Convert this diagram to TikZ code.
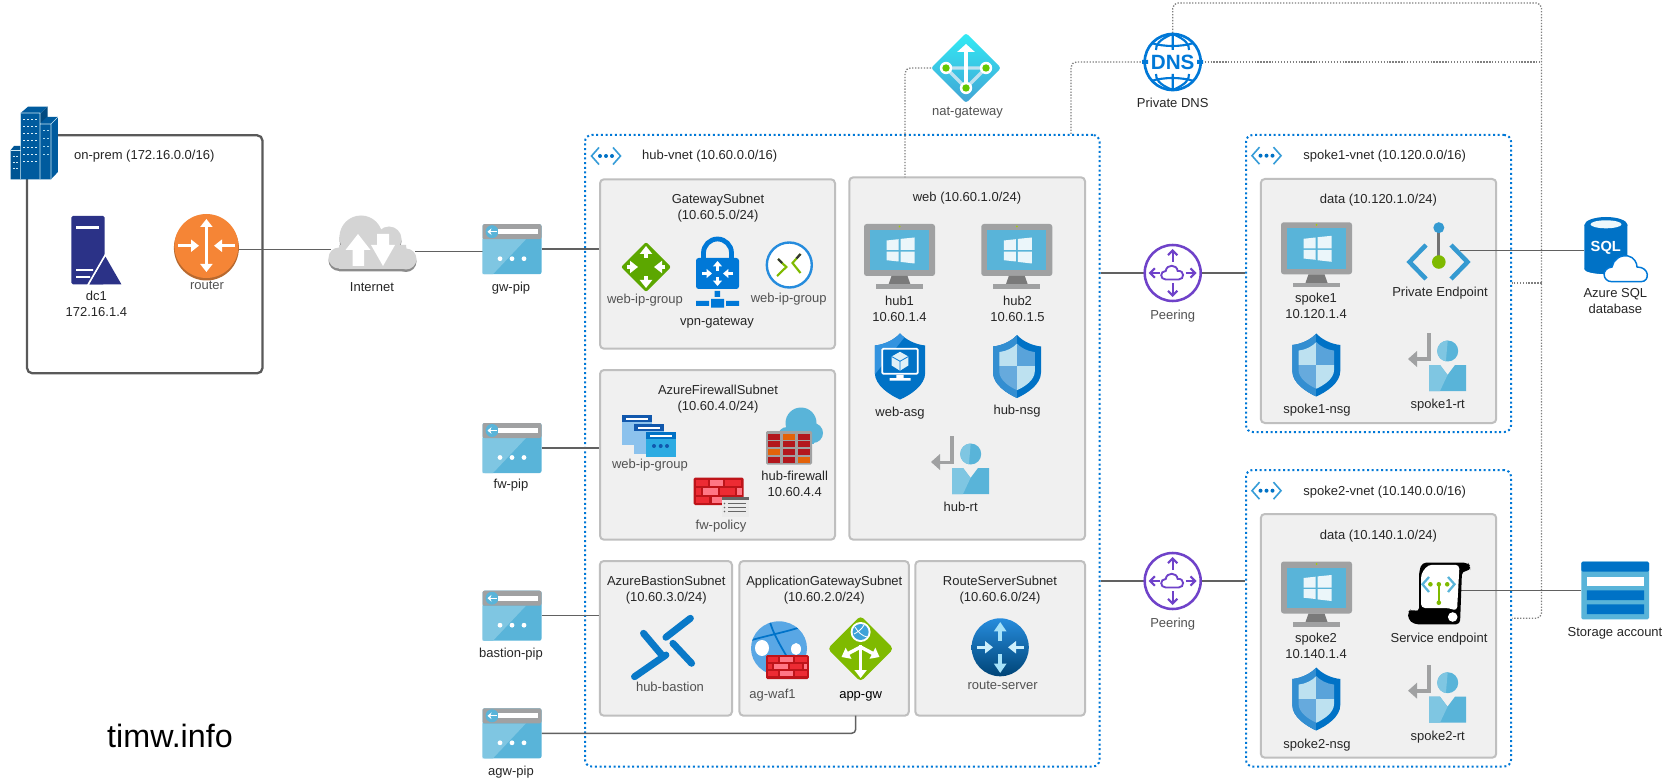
\documentclass[tikz,border=0pt]{standalone}
\usepackage{fontspec}
\setmainfont{Liberation Sans}
\usetikzlibrary{arrows.meta,shapes.geometric}
\definecolor{azblue}{HTML}{0078D7}
\definecolor{azdark}{HTML}{0072C6}
\definecolor{azsky}{HTML}{59B4D9}
\definecolor{azlight}{HTML}{7FC6E2}
\definecolor{azgrey}{HTML}{A0A1A2}
\definecolor{purp}{HTML}{6F42C9}
\definecolor{leaf}{HTML}{7FBA00}
\definecolor{navy}{HTML}{2B3287}
\definecolor{bricka}{HTML}{B3171D}
\definecolor{brickb}{HTML}{E36209}
\definecolor{brickc}{HTML}{ED2B33}
\definecolor{brickd}{HTML}{FF7785}
\definecolor{routerorange}{HTML}{F58536}
\definecolor{routerrim}{HTML}{B8692F}
\newcommand\lblfont{\fontsize{9.75}{12}\selectfont}
\newcommand\shieldpath{(0,-31.5) .. controls (-5,-26) and (-14,-21) .. (-24,-20) -- (-24,6) .. controls (-24,18) and (-10,27) .. (0,31.5) .. controls (10,27) and (24,18) .. (24,6) -- (24,-20) .. controls (14,-21) and (5,-26) .. (0,-31.5) -- cycle}
\newcommand\boxnode[6]{\node[#1,minimum width={(#5-#3)*0.75pt},minimum height={(#6-#4)*0.75pt}] (#2) at ({(#3+#5)/2},{(#4+#6)/2}) {};}
\newcommand\iconnode[5]{\node[anchornode,minimum width={#4*0.75pt},minimum height={#5*0.75pt}] (#1) at (#2,#3) {};}
\tikzset{
  x=0.75pt,y=-0.75pt,
  lbl/.style={font=\lblfont,text=black!85,align=center,inner sep=0pt,yshift=-0.6pt,execute at begin node=\strut,execute at end node=\strut},
  lblg/.style={lbl,text=black!68},
  subnet/.style={draw=black!25,line width=1.5pt,fill=black!6,rounded corners=3pt,inner sep=0pt},
  vnetbox/.style={draw=azblue,line width=1.5pt,dash pattern=on 1.5pt off 2pt,rounded corners=5pt,inner sep=0pt},
  prembox/.style={draw=black!65,line width=1.7pt,rounded corners=4pt,inner sep=0pt},
  anchornode/.style={inner sep=0pt,outer sep=0pt},
  conn/.style={draw=black!62,line width=1.1pt},
  dotline/.style={draw=black!50,line width=1pt,dash pattern=on 1pt off 1.2pt,rounded corners=4pt},
  wa/.style={draw=white,line width=2.6pt,-{Triangle[length=6pt,width=9pt]}},
  wd/.style={draw=white,line width=2.6pt,{Triangle[length=6pt,width=9pt]}-{Triangle[length=6pt,width=9pt]}},
  pics/pipicon/.style={code={
    \fill[azsky,rounded corners=1.5pt] (-29.5,-25) rectangle (29.5,25);
    \fill[azlight] (-29.5,-10) -- (14,-10) -- (-19,25) -- (-29.5,25) -- cycle;
    \fill[azgrey,rounded corners=1.5pt] (-29.5,-25) rectangle (29.5,-10);
    \fill[azsky] (-20,-17.5) circle (6.5);
    \draw[white,line width=1pt,-{Stealth[length=3pt,width=5pt]}] (-15,-17.5) -- (-24.5,-17.5);
    \fill[white] (-14,-20) rectangle (26,-15);
    \foreach \q in {-12,0,12} \fill[white] (\q,9.5) circle (2.4);
  }},
  pics/vmicon/.style={code={
    \fill[azgrey,rounded corners=2pt] (-35.5,-32.5) rectangle (35.5,19.5);
    \fill[azsky] (-30,-26.5) rectangle (29.5,14);
    \fill[black!52] (-8,19.5) -- (8,19.5) -- (11,28) -- (-11,28) -- cycle;
    \fill[azgrey] (-23.5,28) rectangle (23.5,32.5);
    \fill[leaf!70!yellow] (0,-30) circle (1);
    \fill[white!88!azsky] (-13,-16) -- (-1,-17.3) -- (-1,-6.5) -- (-13,-6.5) -- cycle;
    \fill[white!88!azsky] (1,-17.6) -- (15,-19) -- (15,-6.5) -- (1,-6.5) -- cycle;
    \fill[white!88!azsky] (-13,-4.8) -- (-1,-4.8) -- (-1,5) -- (-13,3.7) -- cycle;
    \fill[white!88!azsky] (1,-4.8) -- (15,-4.8) -- (15,7) -- (1,5.4) -- cycle;
  }},
  pics/nsgicon/.style={code={
    \fill[azdark] \shieldpath;
    \begin{scope}
      \clip \shieldpath;
      \fill[azdark!80!white] (-30,-35) rectangle (0,35);
    \end{scope}
    \begin{scope}[scale=.74,yshift=-0.4pt]
      \clip \shieldpath;
      \fill[azsky!40!white] (-30,-35) rectangle (0,-1);
      \fill[azdark!65!white] (0,-35) rectangle (30,-1);
      \fill[azdark!60!white] (-30,-1) rectangle (0,35);
      \fill[azsky!40!white] (0,-1) rectangle (30,35);
    \end{scope}
  }},
  pics/rticon/.style={code={
    \fill[azgrey] (-10,-29) rectangle (-6,-1);
    \fill[azgrey] (-24,-4.5) rectangle (-6,-1);
    \fill[azgrey] (-29,-3) -- (-20,-11) -- (-20,5) -- cycle;
    \fill[azsky] (10.7,-11) circle (10.5);
    \fill[azlight] (10.7,-21.5) arc (-90:-260:10.5) -- cycle;
    \fill[azsky] (-8,3) -- (3,3) -- (10.5,13) -- (18,3) -- (29,3) -- (29,29) -- (-8,29) -- cycle;
    \fill[azlight] (-8,3) -- (3,3) -- (10.5,13) -- (3,29) -- (-8,29) -- cycle;
  }},
  pics/vneticon/.style={code={
    \draw[azsky!60!azblue,line width=1.2pt] (-7,-8.5) -- (-14.5,0) -- (-7,8.5);
    \draw[azsky!60!azblue,line width=1.2pt] (7,-8.5) -- (14.5,0) -- (7,8.5);
    \foreach \q in {-6,0,6} \fill[azdark] (\q,0) circle (2);
  }},
  pics/peericon/.style={code={
    \draw[purp,line width=1.9pt] (0,0) circle (28);
    \draw[purp,line width=1.6pt,-{Straight Barb[length=3.5pt,width=7pt]}] (0,-11) -- (0,-24);
    \draw[purp,line width=1.6pt,-{Straight Barb[length=3.5pt,width=7pt]}] (0,10) -- (0,24);
    \draw[purp,line width=1.6pt,-{Straight Barb[length=3.5pt,width=7pt]}] (-13,0) -- (-24,0);
    \draw[purp,line width=1.6pt,-{Straight Barb[length=3.5pt,width=7pt]}] (13,0) -- (24,0);
    \draw[purp,line width=1.4pt] (-7,6.5) .. controls (-13,6.5) and (-13,-2) .. (-7,-2) .. controls (-6,-9) and (4,-9) .. (5,-2) .. controls (12,-3) and (12,6.5) .. (6,6.5) -- cycle;
  }},
}
\begin{document}
\begin{tikzpicture}
\useasboundingbox (0,0) rectangle (1673,780);
\fill[white] (0,0) rectangle (1673,780);
% containers
\boxnode{prembox}{onprem}{27}{135.3}{262.5}{373.3}
\boxnode{vnetbox}{hubvnet}{585}{135}{1099.5}{766.5}
\boxnode{vnetbox}{spokeonevnet}{1246}{135}{1511}{432}
\boxnode{vnetbox}{spoketwovnet}{1246}{470}{1511}{766.5}
\boxnode{subnet}{gwsubnet}{600}{179.3}{835}{348.7}
\boxnode{subnet}{fwsubnet}{600}{370}{835}{539.7}
\boxnode{subnet}{websubnet}{849.3}{177.3}{1085}{539.7}
\boxnode{subnet}{bastionsubnet}{599.8}{561}{732}{715.7}
\boxnode{subnet}{appsubnet}{739.4}{561}{908.8}{715.7}
\boxnode{subnet}{routesubnet}{915.3}{561}{1085}{715.7}
\boxnode{subnet}{dataone}{1260.8}{179}{1496.2}{423}
\boxnode{subnet}{datatwo}{1260.8}{514}{1496.2}{757.7}
% anchors of the connected icons
\iconnode{router}{206.4}{249.7}{65}{64}
\iconnode{inet}{372.5}{249.7}{84}{58}
\iconnode{gwpip}{512}{249.2}{59}{50}
\iconnode{fwpip}{512}{448}{59}{50}
\iconnode{bastionpip}{512}{615.7}{59}{50}
\iconnode{agwpip}{512}{733.3}{59}{50}
\iconnode{peerone}{1172.7}{273}{58}{58}
\iconnode{peertwo}{1172.7}{581}{58}{58}
\iconnode{natgw}{966}{68}{70}{70}
\iconnode{dns}{1172.7}{62}{58}{58}
\iconnode{pep}{1439}{250.7}{42}{40}
\iconnode{svcep}{1439}{590.3}{42}{40}
\iconnode{sqldb}{1606}{250.7}{44}{60}
\iconnode{storage}{1615}{590.3}{68}{58}
\coordinate (natdrop) at (905,177.3);
\coordinate (dnsdrop) at (1071,135);
\coordinate (railtop) at (1541.5,3);
\coordinate (retone) at (1541.5,283);
\coordinate (rettwo) at (1541.5,618.3);
\coordinate (appdrop) at (855.7,715.7);
% connectors
\draw[conn] (router.east) -- (router.east -| inet.west);
\draw[conn] ([yshift=-1.8pt]gwpip.west) -- ([yshift=-1.8pt]gwpip.west -| inet.east);
\draw[conn] (gwpip.east) -- (gwpip.east -| gwsubnet.west);
\draw[conn] (fwpip.east) -- (fwpip.east -| fwsubnet.west);
\draw[conn] (bastionpip.east) -- (bastionpip.east -| bastionsubnet.west);
\draw[conn,rounded corners=3pt] (agwpip.east) -- (agwpip.east -| appdrop) -- (appdrop);
\draw[conn] (peerone.west) -- (peerone.west -| hubvnet.east);
\draw[conn] (peerone.east) -- (peerone.east -| spokeonevnet.west);
\draw[conn] (peertwo.west) -- (peertwo.west -| hubvnet.east);
\draw[conn] (peertwo.east) -- (peertwo.east -| spoketwovnet.west);
\draw[dotline] (natgw.west) -- (natgw.west -| natdrop) -- (natdrop);
\draw[dotline] (dns.west) -- (dns.west -| dnsdrop) -- (dnsdrop);
\draw[dotline] (dns.north) -- (dns.north |- railtop) -- (railtop) -- (rettwo) -- (rettwo -| spoketwovnet.east);
\draw[dotline] (dns.east) -- (dns.east -| railtop);
\draw[dotline] (retone) -- (retone -| spokeonevnet.east);
\draw[conn] (pep.east) -- (sqldb.west);
\draw[conn] (svcep.east) -- (storage.west);
% building
\begin{scope}
  \fill[azdark!75!black] (10.7,150) -- (14,146) -- (21,146) -- (21,179.3) -- (10.7,179.3) -- cycle;
  \fill[azdark!80!black] (20.7,113) -- (28,106.7) -- (47.5,106.7) -- (40,114) -- (40,179.3) -- (20.7,179.3) -- cycle;
  \fill[azdark!65!black] (47.5,106.7) -- (47.5,118) -- (40,124) -- (40,114) -- cycle;
  \fill[azdark!80!black] (40,124) -- (47,117) -- (57.9,117) -- (57.9,172) -- (51,179.3) -- (40,179.3) -- cycle;
  \draw[white!70!azsky,line width=.4pt] (20.7,113) -- (40,113) -- (40,179.3) (20.7,113) -- (20.7,179.3) (40,124) -- (51,124) -- (51,179.3) (10.7,150.5) -- (20.7,150.5) (51,124) -- (57.9,117);
  \foreach \q in {119,126,133,140,147,154,161} {
    \foreach \r in {23,27,31,35} \draw[white!80!azsky,line width=.5pt] (\r,\q) -- (\r+2.2,\q);
  }
  \foreach \q in {130,138,146,154} \foreach \r in {43,47} \draw[white!50!azsky,line width=.5pt] (\r,\q) -- (\r+2,\q);
  \foreach \q in {156,162,168} \foreach \r in {12.5,16} \draw[white!70!azsky,line width=.5pt] (\r,\q) -- (\r+2,\q);
\end{scope}
% dc1 server
\fill[navy,rounded corners=1.2pt] (71.4,216) rectangle (104.6,284.3);
\fill[white] (76,226.5) rectangle (99,229.3);
\draw[white,line width=1.4pt] (76,270) -- (93,270) (76,277) -- (90,277) (106,254) -- (88,285);
\fill[navy] (89.5,284.3) -- (105.5,256.7) -- (121.4,284.3) -- cycle;
% router
\fill[routerrim] (206.4,248) circle (32.5);
\fill[routerorange] (206.4,246) circle (32);
\draw[wd] (206.4,219) -- (206.4,272);
\draw[wa] (178,245.7) -- (199,245.7);
\draw[wa] (235,245.7) -- (214,245.7);
% internet
\foreach \dy/\col in {2.5/black!45,0/black!17} {
  \begin{scope}[yshift=-\dy*0.75pt]
    \fill[\col] (361,237) circle (21.5) (389,239) circle (12.5) (339,258) circle (10.5) (406,259) circle (10.5);
    \fill[\col] (339,245) rectangle (406,269) (345,240) rectangle (395,260);
  \end{scope}
}
\fill[white] (358,234) -- (370.5,250) -- (364,250) -- (364,266) -- (352.5,266) -- (352.5,250) -- (345.5,250) -- cycle;
\fill[white] (383,266) -- (395,245) -- (389,245) -- (389,234) -- (377,234) -- (377,245) -- (371,245) -- cycle;
% public ips
\path (512,249.2) pic {pipicon};
\path (512,448) pic {pipicon};
\path (512,615.7) pic {pipicon};
\path (512,733.3) pic {pipicon};
% vnet icons
\path (606,156) pic {vneticon};
\path (1266.5,155.7) pic {vneticon};
\path (1266.5,490.7) pic {vneticon};
% nat gateway
\shade[top color=cyan!70!azsky!90!white,bottom color=azsky!75!azdark,rounded corners=2pt] (966,33) -- (1001,68) -- (966,103) -- (931,68) -- cycle;
\draw[azsky!40!white,line width=2.6pt] (946,68) -- (966,68) -- (986,68) (946,68) -- (966,88) -- (986,68);
\draw[white,line width=2.6pt,-{Triangle[length=6pt,width=13pt]}] (966,88) -- (966,44);
\foreach \q/\w in {946/68,986/68,966/88} {\fill[white] (\q,\w) circle (6.2); \fill[leaf!80!green] (\q,\w) circle (3.7);}
% private dns
\draw[azblue,line width=2pt] (1172.7,62) circle (28);
\draw[azblue,line width=1.6pt] (1172.7,34) .. controls (1158,40) and (1156,45) .. (1156,50) (1172.7,34) .. controls (1187,40) and (1189,45) .. (1189,50)
  (1172.7,90) .. controls (1158,84) and (1156,79) .. (1156,74) (1172.7,90) .. controls (1187,84) and (1189,79) .. (1189,74)
  (1172.7,34) -- (1172.7,50) (1172.7,74) -- (1172.7,90)
  (1151,43) .. controls (1165,47) and (1180,47) .. (1194,43) (1151,81) .. controls (1165,77) and (1180,77) .. (1194,81);
\node[anchornode,font=\bfseries\fontsize{15.5}{16}\selectfont,fill=white,inner xsep=1pt,text=azblue] (dnstext) at (1172.7,62) {DNS};
\fill[azblue] (1142,60) rectangle (1148,64) (1197,60) rectangle (1203,64);
% gateway subnet
\fill[leaf!85!green!85!black,rounded corners=1.5pt] (646,242) -- (671,267) -- (646,292) -- (621,267) -- cycle;
\draw[wa] (646,258) -- (646,246);
\draw[wa] (646,276) -- (646,288);
\draw[wa] (627,267) -- (638,267);
\draw[wa] (665,267) -- (654,267);
\draw[azblue,line width=3.6pt] (703.5,262) -- (703.5,253) arc (180:360:14) -- (731.5,262);
\fill[azblue,rounded corners=2pt] (696,258) rectangle (739,289);
\draw[wa,line width=1.6pt,-{Triangle[length=4pt,width=6.5pt]}] (717.5,271) -- (717.5,261);
\draw[wa,line width=1.6pt,-{Triangle[length=4pt,width=6.5pt]}] (717.5,277) -- (717.5,286);
\draw[wa,line width=1.6pt,-{Triangle[length=4pt,width=6.5pt]}] (702,273.5) -- (712,273.5);
\draw[wa,line width=1.6pt,-{Triangle[length=4pt,width=6.5pt]}] (733,273.5) -- (723,273.5);
\fill[azblue] (714.5,291) rectangle (720,297) (696,301) rectangle (709,306) (711,299) rectangle (724,307.7) (726,301) rectangle (739,306);
\draw[azblue!85!white,line width=1.8pt,fill=white] (789.3,265) circle (22.5);
\draw[leaf,line width=1.6pt] (778,259) -- (786.3,267) -- (777,276);
\draw[leaf,line width=1.6pt] (800.5,254) -- (792.5,263) -- (800.5,273);
\draw[black!80,line width=1.6pt] (778,259) -- (782,263) (800.5,254) -- (796.5,258.5);
% firewall subnet icons
\foreach \wx/\wy/\wb/\wh in {622.3/415/azblue!45!white/black!0,634/424/azblue!45!white/black!0} {
  \fill[\wb] (\wx,\wy) rectangle (\wx+30,\wy+30);
  \fill[azdark!60!navy] (\wx,\wy) rectangle (\wx+30,\wy+7);
  \fill[white] (\wx+4,\wy+2.5) rectangle (\wx+26,\wy+4.5);
}
\fill[cyan!65!azsky] (645.7,432.3) rectangle (675.7,456.7);
\fill[azdark] (645.7,432.3) rectangle (675.7,439);
\fill[white] (649.7,434.8) rectangle (671.7,436.8);
\foreach \q in {654,660.7,667} \fill[azdark!60!navy] (\q,446) circle (2);
\fill[azsky] (801,423) circle (15.5) (813,433) circle (10) (787,436) circle (9);
\fill[azsky] (787,430) rectangle (814,444);
\fill[azgrey,rounded corners=1pt] (766,431) rectangle (812,464.5);
\foreach \rr/\q/\c in {0/0/bricka,0/1/brickb,0/2/bricka,1/0/bricka,1/1/bricka,1/2/bricka,2/0/brickb,2/1/bricka,2/2/bricka,3/0/bricka,3/1/bricka,3/2/brickb}
  \fill[\c] (768+\q*14.8,433.5+\rr*7.8) rectangle (780+\q*14.8,439.5+\rr*7.8);
% fw policy
\fill[bricka!85!red,rounded corners=1pt] (693.7,477.7) rectangle (743.7,505);
\foreach \q/\w/\c in {696/12/brickc,710/13/brickd,725/16/brickc} \fill[\c] (\q,480) rectangle (\q+\w,486);
\foreach \q/\w/\c in {696/5/brickc,703/15/brickd,720/15/brickc,737/5/brickd} \fill[\c] (\q,488) rectangle (\q+\w,494.5);
\foreach \q/\w/\c in {696/13/brickc,712/13/brickd,727/14/brickc} \fill[\c] (\q,496.5) rectangle (\q+\w,503);
\fill[black!8] (721.7,496.7) rectangle (749,516.7);
\fill[black!60] (721.7,496.7) rectangle (749,500);
\foreach \q in {503.5,507.5,511.5} {\draw[black!60,line width=.7pt] (728,\q) -- (746,\q); \fill[black!60] (724.5,\q) circle (.8);}
% bastion
\draw[azdark!90!azsky,line width=5.2pt,line cap=round] (690.4,618.3) -- (665.9,637.3) (672.9,643.3) -- (691.6,663.3) (665.9,655) -- (634.5,676.7) (643.5,633.3) -- (661.8,655);
% ag-waf
\begin{scope}
  \fill[azblue!65!white] (779,648.3) ellipse (28 and 27);
  \clip (779,648.3) ellipse (28 and 27);
  \fill[white] (762,648) ellipse (7 and 8) (796,649) ellipse (5 and 6);
  \draw[azdark!80!azblue,line width=1.3pt] (770,622) .. controls (775,640) and (790,660) .. (800,680) (752,640) .. controls (765,636) and (795,630) .. (806,625);
\end{scope}
\fill[bricka!85!red,rounded corners=1pt] (766,655) rectangle (808.8,679);
\foreach \q/\w/\c in {768/10/brickc,780/13/brickd,795/12/brickc} \fill[\c] (\q,657) rectangle (\q+\w,661.5);
\foreach \q/\w/\c in {768/4/brickc,774/14/brickd,790/12/brickc,804/3/brickd} \fill[\c] (\q,664) rectangle (\q+\w,668.5);
\foreach \q/\w/\c in {768/10/brickc,780/13/brickd,795/12/brickc} \fill[\c] (\q,671) rectangle (\q+\w,676);
% app gateway
\fill[leaf,rounded corners=3pt] (860.6,615.7) -- (893.6,648.7) -- (860.6,681.7) -- (827.6,648.7) -- cycle;
\draw[wa] (860.6,645) -- (860.6,678);
\draw[wa] (860.6,647) -- (841.5,657);
\draw[wa] (860.6,647) -- (879.5,657);
\fill[white] (860.6,632) circle (10);
\fill[azsky!70!azblue] (860.6,632) circle (8);
\draw[white,line width=.6pt] (855,627) .. controls (858,632) and (862,636) .. (867,637) (854,634) .. controls (858,632) and (862,629) .. (864,625);
% route server
\shade[top color=azblue!85!white,bottom color=azdark!60!black] (1000.2,647.3) ellipse (28.6 and 29);
\begin{scope}[line width=2.6pt]
  \draw[draw=cyan!35!white,-{Triangle[length=7pt,width=9pt]}] (1000.2,641) -- (1000.2,622);
  \draw[draw=cyan!35!white,-{Triangle[length=7pt,width=9pt]}] (1000.2,654) -- (1000.2,673);
  \draw[draw=white!80!cyan,-{Triangle[length=6pt,width=9pt]}] (977,647.3) -- (993,647.3);
  \draw[draw=white!80!cyan,-{Triangle[length=6pt,width=9pt]}] (1024,647.3) -- (1008,647.3);
\end{scope}
% vms
\path (899.5,256.5) pic {vmicon};
\path (1016.8,256.5) pic {vmicon};
\path (1316.5,254.8) pic {vmicon};
\path (1316.5,594) pic {vmicon};
% web-asg
\begin{scope}[shift={(900,366.5)},scale=1.05]
  \fill[azdark] \shieldpath;
  \begin{scope}
    \clip \shieldpath;
    \fill[azblue!80!white] (-30,-35) -- (10,-35) -- (-30,15) -- cycle;
  \end{scope}
  \draw[white,line width=1.3pt,fill=azdark,rounded corners=1pt] (-17,-17) rectangle (17,7);
  \fill[white] (-3.5,8) rectangle (3.5,11) (-10,11) rectangle (10,13.5);
  \fill[white!80!azsky] (0,-14) -- (8,-9.5) -- (8,-1) -- (0,4) -- (-8,-1) -- (-8,-9.5) -- cycle;
  \draw[azblue,line width=.6pt] (-8,-9.5) -- (0,-5) -- (8,-9.5) (0,-5) -- (0,4);
\end{scope}
% shields and route tables
\path (1017,366.5) pic {nsgicon};
\path (1316.3,365) pic {nsgicon};
\path (1316.3,699) pic {nsgicon};
\path (960,465) pic {rticon};
\path (1437,362) pic {rticon};
\path (1437,693.7) pic {rticon};
% peerings
\path (1172.7,273) pic {peericon};
\path (1172.7,581) pic {peericon};
% private endpoint
\draw[azsky!60!azdark,line width=3.4pt] (1426,245) -- (1409.5,262) -- (1426,279);
\draw[azsky!60!azdark,line width=3.4pt] (1451,245) -- (1467.5,262) -- (1451,279);
\draw[black!55,line width=2pt] (1438.8,228) -- (1438.8,262);
\fill[azsky!60!azdark] (1438.8,227.7) circle (5.5);
\fill[leaf] (1438.8,262) circle (6.8);
% sql
\fill[azdark] (1584.3,225) rectangle (1627.4,269) (1584.3,269) arc (180:0:21.55 and 5);
\fill[azdark] (1606,225) ellipse (21.55 and 8);
\fill[azdark] (1606,269) ellipse (21.55 and 5);
\fill[white!90!azsky] (1606,224.3) ellipse (15.5 and 4);
\node[anchornode,font=\bfseries\fontsize{11}{12}\selectfont,text=white] (sqltext) at (1605.8,247.7) {SQL};
\draw[azblue,line width=1.1pt,fill=white] (1612,281.7) .. controls (1602,281.7) and (1601,268) .. (1612,267) .. controls (1613,260) and (1620,254.5) .. (1628,256) .. controls (1634,257) and (1637,263) .. (1637,267) .. controls (1650,267) and (1650,281.7) .. (1641,281.7) -- cycle;
% service endpoint
\fill[black,rounded corners=3pt] (1419,612) -- (1419,572) -- (1422,562.7) -- (1468,562.7) -- (1470,566) -- (1470,571) -- (1462,571) -- (1460,624.3) -- (1414,624.3) -- (1408,619) -- (1408,612) -- (1411,609) -- cycle;
\fill[white,rounded corners=3pt] (1421,608) -- (1421,574) -- (1428,564.8) -- (1459.5,564.8) -- (1457,611) -- (1449,608) -- cycle;
\fill[white] (1452.7,617) circle (4.8);
\draw[azsky,line width=1.7pt] (1429,577) -- (1422.5,584.3) -- (1429,592) (1448,577) -- (1454.5,584.3) -- (1448,592);
\draw[leaf,line width=1.4pt] (1438.8,584.3) -- (1438.8,602.7) ;
\foreach \q/\w in {1430.4/584.3,1438.8/584.3,1447.2/584.3,1438.8/602.7} \fill[leaf] (\q,\w) circle (2.3);
% storage
\fill[azsky,rounded corners=1pt] (1581.4,561.7) rectangle (1649,619.3);
\fill[azdark,rounded corners=1pt] (1581.4,561.7) rectangle (1649,571.7);
\fill[white] (1586.8,576.7) rectangle (1644,585.7);
\fill[azdark] (1586.8,590.3) rectangle (1644,600) (1586.8,604.3) rectangle (1644,614);
% labels
\node[lbl] (tonprem) at (144.3,156) {on-prem (172.16.0.0/16)};
\node[lbl] (ldc) at (96.4,305) {dc1\\172.16.1.4};
\node[lblg] (lrouter) at (207,285.3) {router};
\node[lbl] (linet) at (372,287.3) {Internet};
\node[lbl] (lgwpip) at (511,287.3) {gw-pip};
\node[lbl] (lfwpip) at (511,484.4) {fw-pip};
\node[lbl] (lbastionpip) at (511,653.3) {bastion-pip};
\node[lbl] (lagwpip) at (511,771.5) {agw-pip};
\node[anchor=center,inner sep=0pt,font=\fontsize{24.2}{26}\selectfont,text=black] (brand) at (170,736) {timw.info};
\node[lbl] (thub) at (709.7,156) {hub-vnet (10.60.0.0/16)};
\node[lbl] (tgw) at (718,208) {GatewaySubnet\\(10.60.5.0/24)};
\node[lblg] (lga) at (645,300) {web-ip-group};
\node[lblg] (lgb) at (788.7,299) {web-ip-group};
\node[lbl] (lvpn) at (717,321.3) {vpn-gateway};
\node[lbl] (tfw) at (718,399) {AzureFirewallSubnet\\(10.60.4.0/24)};
\node[lblg] (lip) at (650,464) {web-ip-group};
\node[lbl] (lfirewall) at (794.7,485) {hub-firewall\\10.60.4.4};
\node[lblg] (lpolicy) at (721,525.7) {fw-policy};
\node[lbl] (tweb) at (967,198) {web (10.60.1.0/24)};
\node[lbl] (lhuba) at (899.5,310) {hub1\\10.60.1.4};
\node[lbl] (lhubb) at (1017.5,310) {hub2\\10.60.1.5};
\node[lbl] (lasg) at (900,412.5) {web-asg};
\node[lbl] (lnsg) at (1017,410) {hub-nsg};
\node[lbl] (lhubrt) at (960.7,507) {hub-rt};
\node[lbl] (tbast) at (666.3,590.3) {AzureBastionSubnet\\(10.60.3.0/24)};
\node[lbl] (tapp) at (824.3,590.3) {ApplicationGatewaySubnet\\(10.60.2.0/24)};
\node[lbl] (troute) at (1000,590.3) {RouteServerSubnet\\(10.60.6.0/24)};
\node[lblg] (lbast) at (670,687.3) {hub-bastion};
\node[lblg] (lwaf) at (772.5,694.3) {ag-waf1};
\node[lbl,text=black] (lappgw) at (860.6,694.3) {app-gw};
\node[lblg] (lrs) at (1002.6,685.7) {route-server};
\node[lblg] (lnat) at (967.5,112) {nat-gateway};
\node[lbl] (ldns) at (1172.7,104) {Private DNS};
\node[lblg] (lpeera) at (1172.7,315.3) {Peering};
\node[lblg] (lpeerb) at (1172.7,623.3) {Peering};
\node[lbl] (tspa) at (1384.7,156) {spoke1-vnet (10.120.0.0/16)};
\node[lbl] (tdataa) at (1378.5,200) {data (10.120.1.0/24)};
\node[lbl] (lspa) at (1316,307.3) {spoke1\\10.120.1.4};
\node[lbl] (lpep) at (1440,292.5) {Private Endpoint};
\node[lbl] (lnsga) at (1317,409.3) {spoke1-nsg};
\node[lbl] (lrta) at (1437.7,404.3) {spoke1-rt};
\node[lbl] (lsql) at (1615.3,303) {Azure SQL\\database};
\node[lbl] (tspb) at (1384.7,491) {spoke2-vnet (10.140.0.0/16)};
\node[lbl] (tdatab) at (1378.5,535.3) {data (10.140.1.0/24)};
\node[lbl] (lspb) at (1316,647.3) {spoke2\\10.140.1.4};
\node[lbl] (lsvc) at (1439,638.3) {Service endpoint};
\node[lbl] (lnsgb) at (1317,744.3) {spoke2-nsg};
\node[lbl] (lrtb) at (1437.7,736.3) {spoke2-rt};
\node[lbl] (lstor) at (1615,632.3) {Storage account};
\end{tikzpicture}
\end{document}
